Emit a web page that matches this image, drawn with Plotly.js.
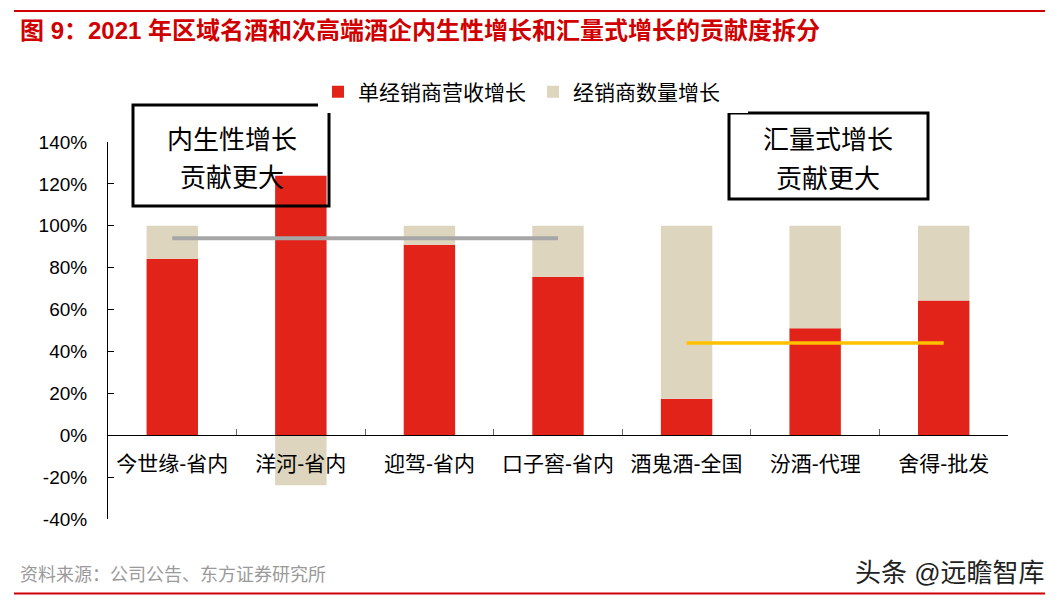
<!DOCTYPE html>
<html>
<head>
<meta charset="utf-8">
<script src="https://cdn.plot.ly/plotly-3.0.1.min.js"></script>
<style>
  html, body { margin: 0; padding: 0; background: #fff; }
  #chart { width: 1064px; height: 605px; }
</style>
</head>
<body>
<div id="chart"></div>
<script>
// ---- data ----
const categories = ['今世缘-省内', '洋河-省内', '迎驾-省内', '口子窖-省内', '酒鬼酒-全国', '汾酒-代理', '舍得-批发'];
const revenuePerDealer = [84.2, 123.9, 91.0, 75.7, 17.4, 51.1, 64.3];   // 单经销商营收增长
const dealerCount = [15.8, -23.9, 9.0, 24.3, 82.6, 48.9, 35.7];        // 经销商数量增长
const innerGroup = ['今世缘-省内', '洋河-省内', '迎驾-省内', '口子窖-省内'];
const innerLevel = [94, 94, 94, 94];
const volumeGroup = ['酒鬼酒-全国', '汾酒-代理', '舍得-批发'];
const volumeLevel = [44, 44, 44];
const yTickVals = [-40, -20, 0, 20, 40, 60, 80, 100, 120, 140];
const yTickText = ['-40%', '-20%', '0%', '20%', '40%', '60%', '80%', '100%', '120%', '140%'];

const FONT = 'Liberation Sans, Noto Sans CJK SC, sans-serif';
const RED = '#E2231A';
const BEIGE = '#DED5BE';
const BRAND = '#D00000';

const traces = [
  {
    type: 'bar', name: '单经销商营收增长', x: categories, y: revenuePerDealer,
    marker: { color: RED }, hoverinfo: 'x+y'
  },
  {
    type: 'bar', name: '经销商数量增长', x: categories, y: dealerCount,
    marker: { color: BEIGE }, hoverinfo: 'x+y'
  },
  {
    type: 'scatter', mode: 'lines', x: innerGroup, y: innerLevel, showlegend: false,
    line: { color: '#A6A6A6', width: 4 }, hoverinfo: 'skip'
  },
  {
    type: 'scatter', mode: 'lines', x: volumeGroup, y: volumeLevel, showlegend: false,
    line: { color: '#FFC000', width: 3.5 }, hoverinfo: 'skip'
  }
];

// plot area: x 108..1008, y 142..519 (pixels)
const px = v => (v - 108) / 900;
const py = v => (519 - v) / 377;

const layout = {
  width: 1064, height: 605,
  margin: { l: 108, r: 56, t: 142, b: 86 },
  paper_bgcolor: '#fff', plot_bgcolor: '#fff',
  barmode: 'relative',
  bargap: 0.6,
  font: { family: FONT, color: '#000' },
  title: {
    text: '<b>图 9：2021 年区域名酒和次高端酒企内生性增长和汇量式增长的贡献度拆分</b>',
    font: { family: FONT, size: 24, color: BRAND },
    xref: 'container', yref: 'container',
    x: 20 / 1064, xanchor: 'left', y: 1 - 31 / 605, yanchor: 'middle'
  },
  showlegend: true,
  legend: {
    orientation: 'h', x: px(318), xanchor: 'left', y: py(92), yanchor: 'middle',
    font: { family: FONT, size: 21, color: '#000' },
    entrywidth: 170, entrywidthmode: 'pixels',
    itemclick: false, itemdoubleclick: false,
    traceorder: 'normal'
  },
  xaxis: {
    type: 'category',
    anchor: 'free', position: 40 / 180,
    showline: true, linecolor: '#000', linewidth: 1,
    ticks: 'inside', tickson: 'boundaries', ticklen: 6, tickcolor: '#666', tickwidth: 1,
    showgrid: false, zeroline: false,
    tickfont: { family: FONT, size: 21, color: '#000' },
    ticklabelstandoff: 10,
    fixedrange: true
  },
  yaxis: {
    range: [-40, 140],
    tickvals: yTickVals, ticktext: yTickText,
    showline: true, linecolor: '#000', linewidth: 1,
    ticks: 'inside', ticklen: 6, tickcolor: '#000', tickwidth: 1,
    showgrid: false, zeroline: false,
    tickfont: { family: FONT, size: 19, color: '#000' },
    ticklabelstandoff: 16,
    fixedrange: true
  },
  shapes: [
    { type: 'line', xref: 'paper', yref: 'paper', x0: px(14), x1: px(1045), y0: py(11), y1: py(11),
      line: { color: BRAND, width: 2 } },
    { type: 'line', xref: 'paper', yref: 'paper', x0: px(14), x1: px(1045), y0: py(593.5), y1: py(593.5),
      line: { color: BRAND, width: 2 } },
    { type: 'rect', xref: 'paper', yref: 'paper', x0: px(133), x1: px(329), y0: py(206), y1: py(105),
      line: { color: '#000', width: 3 }, fillcolor: 'rgba(0,0,0,0)', layer: 'above' },
    { type: 'rect', xref: 'paper', yref: 'paper', x0: px(729), x1: px(928), y0: py(199), y1: py(113),
      line: { color: '#000', width: 3 }, fillcolor: 'rgba(0,0,0,0)', layer: 'above' }
  ],
  annotations: [
    { text: '内生性增长', xref: 'paper', yref: 'paper', x: px(232), y: py(137), showarrow: false,
      xanchor: 'center', yanchor: 'middle', font: { family: 'Noto Sans CJK SC', size: 26, color: '#000' } },
    { text: '贡献更大', xref: 'paper', yref: 'paper', x: px(232), y: py(175), showarrow: false,
      xanchor: 'center', yanchor: 'middle', font: { family: 'Noto Sans CJK SC', size: 26, color: '#000' } },
    { text: '汇量式增长', xref: 'paper', yref: 'paper', x: px(828), y: py(137), showarrow: false,
      xanchor: 'center', yanchor: 'middle', font: { family: 'Noto Sans CJK SC', size: 26, color: '#000' } },
    { text: '贡献更大', xref: 'paper', yref: 'paper', x: px(828), y: py(176), showarrow: false,
      xanchor: 'center', yanchor: 'middle', font: { family: 'Noto Sans CJK SC', size: 26, color: '#000' } },
    { text: '资料来源：公司公告、东方证券研究所', xref: 'paper', yref: 'paper', x: px(18), y: py(575),
      showarrow: false, xanchor: 'left', yanchor: 'middle',
      font: { family: FONT, size: 18, color: '#9A9A9A' } },
    { text: '头条 @远瞻智库', xref: 'paper', yref: 'paper', x: px(1047), y: py(573),
      showarrow: false, xanchor: 'right', yanchor: 'middle',
      font: { family: FONT, size: 26, color: '#222' } }
  ]
};

Plotly.newPlot('chart', traces, layout, { displayModeBar: false, staticPlot: true });
</script>
</body>
</html>
